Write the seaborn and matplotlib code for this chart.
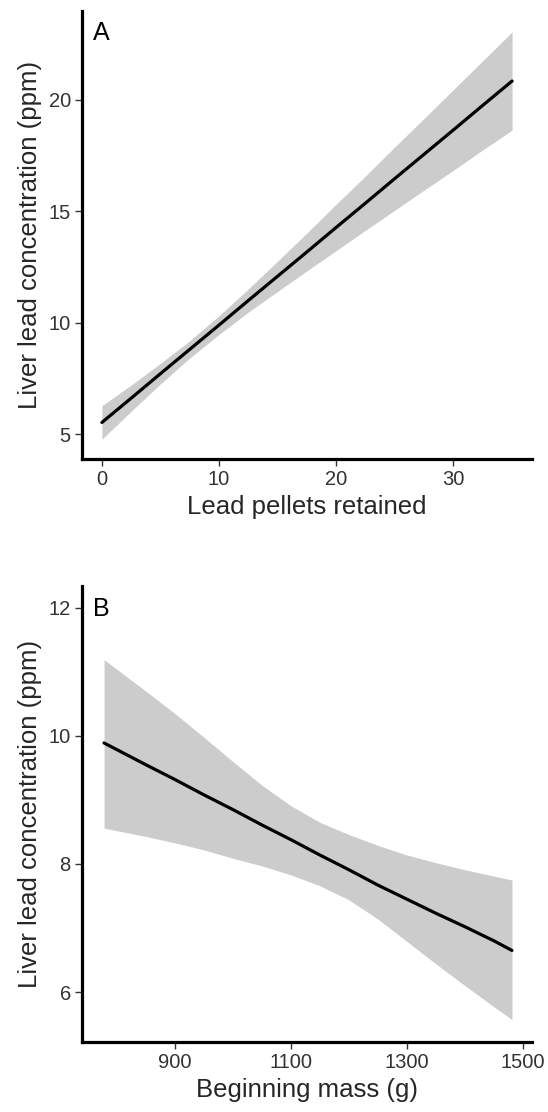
import matplotlib
matplotlib.use('Agg')
import matplotlib.pyplot as plt
import seaborn as sns
import pandas as pd

# Panel A: liver lead vs pellets retained (fit + 95% band)
pellets = [0, 2.5, 5, 7.5, 10, 12.5, 15, 17.5, 20, 22.5, 25, 27.5, 30, 32.5, 35]
pellets_fit = [5.52, 6.61, 7.71, 8.80, 9.89, 10.99, 12.08, 13.17,
               14.27, 15.36, 16.46, 17.55, 18.64, 19.74, 20.83]
pellets_lo = [4.77, 6.02, 7.25, 8.41, 9.47, 10.47, 11.40, 12.32,
              13.23, 14.14, 15.04, 15.94, 16.83, 17.74, 18.63]
pellets_hi = [6.27, 7.20, 8.17, 9.19, 10.31, 11.51, 12.76, 14.02,
              15.31, 16.58, 17.88, 19.16, 20.45, 21.74, 23.03]

# Panel B: liver lead vs beginning mass
mass = [778, 850, 900, 950, 1000, 1050, 1100, 1150, 1200, 1250, 1300, 1350, 1400, 1450, 1481]
mass_fit = [9.89, 9.55, 9.32, 9.08, 8.85, 8.61, 8.38, 8.14, 7.91, 7.67, 7.45, 7.23, 7.02, 6.80, 6.65]
mass_lo = [8.56, 8.43, 8.33, 8.22, 8.09, 7.97, 7.83, 7.66, 7.44, 7.14, 6.79, 6.44, 6.10, 5.77, 5.57]
mass_hi = [11.19, 10.70, 10.35, 9.98, 9.60, 9.23, 8.91, 8.65, 8.46, 8.29, 8.14, 8.02, 7.91, 7.81, 7.75]

sns.set_theme(style='ticks')
plt.rcParams['font.family'] = ['Liberation Sans', 'DejaVu Sans']

BAND = '#cccccc'
TICK_COL = '#333333'

fig = plt.figure(figsize=(5.48, 11.12), dpi=100)
ax_a = fig.add_axes([0.1496, 0.5872, 0.8212, 0.4029])
ax_b = fig.add_axes([0.1496, 0.0629, 0.8212, 0.4101])

df_a = pd.DataFrame({'x': pellets, 'fit': pellets_fit, 'lo': pellets_lo, 'hi': pellets_hi})
df_b = pd.DataFrame({'x': mass, 'fit': mass_fit, 'lo': mass_lo, 'hi': mass_hi})


def draw_panel(ax, df, letter, xlabel, xlim, ylim, xticks, yticks):
    ax.fill_between(df['x'], df['lo'], df['hi'], color=BAND, linewidth=0, zorder=1)
    sns.lineplot(data=df, x='x', y='fit', ax=ax, color='black', linewidth=2.3, zorder=2)
    ax.set_xlim(*xlim)
    ax.set_ylim(*ylim)
    ax.set_xticks(xticks)
    ax.set_yticks(yticks)
    ax.set_xlabel(xlabel, fontsize=18.5, labelpad=4)
    ax.set_ylabel('Liver lead concentration (ppm)', fontsize=18.5, labelpad=5)
    ax.tick_params(labelsize=14.5, length=5, width=1, color=TICK_COL,
                   labelcolor=TICK_COL, pad=3)
    for side in ['top', 'right']:
        ax.spines[side].set_visible(False)
    for side in ['left', 'bottom']:
        ax.spines[side].set_linewidth(2.3)
        ax.spines[side].set_color('black')
    ax.text(0.024, 0.95, letter, transform=ax.transAxes, fontsize=18,
            ha='left', va='center', color='black')


draw_panel(ax_a, df_a, 'A', 'Lead pellets retained',
           (-1.7, 36.7), (3.88, 23.97), [0, 10, 20, 30], [5, 10, 15, 20])
draw_panel(ax_b, df_b, 'B', 'Beginning mass (g)',
           (740, 1515.5), (5.22, 12.34), [900, 1100, 1300, 1500], [6, 8, 10, 12])

fig.savefig('out.png', dpi=100, facecolor='white')
plt.close(fig)
